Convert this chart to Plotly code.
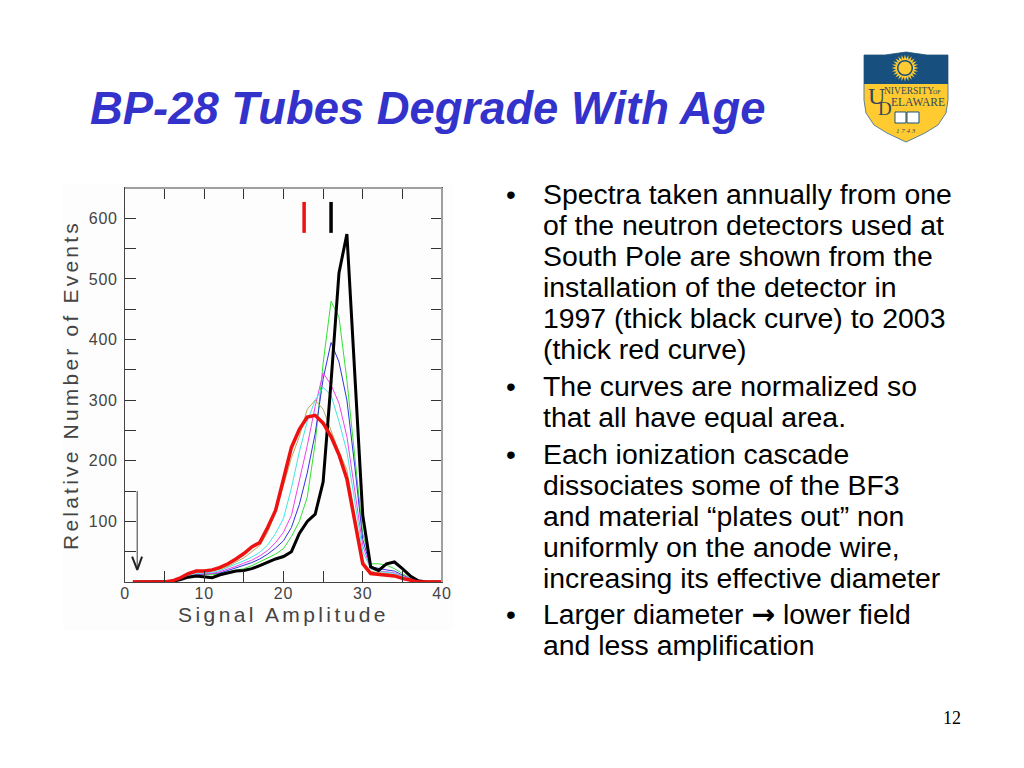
import math
import plotly.graph_objects as go

W, H = 1024, 768
title = "BP-28 Tubes Degrade With Age"
x_title = "Signal Amplitude"
y_title = "Relative Number of Events"
x_ticks = [0, 5, 10, 15, 20, 25, 30, 35, 40]
x_labels = ["0", "", "10", "", "20", "", "30", "", "40"]
y_ticks = [50, 100, 150, 200, 250, 300, 350, 400, 450, 500, 550, 600]
y_labels = ["", "100", "", "200", "", "300", "", "400", "", "500", "", "600"]
ARROW = '<span style="font-family:DejaVu Sans"><b>→</b></span>'
bullet_lines = [
    ("•", "Spectra taken annually from one", 194),
    ("", "of the neutron detectors used at", 225),
    ("", "South Pole are shown from the", 256),
    ("", "installation of the detector in", 287),
    ("", "1997 (thick black curve) to 2003", 318),
    ("", "(thick red curve)", 349),
    ("•", "The curves are normalized so", 386),
    ("", "that all have equal area.", 417),
    ("•", "Each ionization cascade", 454),
    ("", "dissociates some of the BF3", 485),
    ("", "and material “plates out” non", 516),
    ("", "uniformly on the anode wire,", 547),
    ("", "increasing its effective diameter", 578),
    ("•", "Larger diameter " + ARROW + " lower field", 614),
    ("", "and less amplification", 645),
]
x_vals = list(range(1, 41))
# amplitude 1..40
black = [0,0,0,0,0,1,4,8,10,9,7,12,15,18,19,22,27,33,38,42,50,80,100,112,165,330,510,574,340,110,25,19,30,33,22,10,2,0,0,0]
green = [0,0,0,0,0,2,5,9,11,12,12,14,17,20,22,27,33,39,46,55,75,100,140,229,361,463,437,333,205,80,30,30,28,22,14,6,1,0,0,0]
blue = [0,0,0,0,0,2,6,10,12,13,13,15,19,23,27,32,38,46,56,68,90,128,180,245,335,395,363,300,190,70,25,22,20,18,12,5,1,0,0,0]
magenta = [0,0,0,0,0,2,6,11,13,14,14,17,21,26,31,36,43,52,65,82,110,165,225,290,345,325,295,240,150,60,22,18,17,15,10,5,1,0,0,0]
cyan = [0,0,0,0,0,2,6,11,14,15,16,19,24,29,35,41,49,61,80,105,155,215,265,300,321,308,265,215,130,50,22,17,16,14,9,4,1,0,0,0]
tan = [0,0,0,0,0,2,7,13,16,17,18,21,26,33,40,50,60,82,115,160,205,240,285,300,285,250,215,185,110,35,18,15,14,12,8,4,1,0,0,0]
red = [0,0,0,0,0,2,7,14,18,18,20,24,30,38,47,58,65,90,118,170,222,252,272,275,262,240,210,170,100,30,14,13,12,10,6,3,0,0,0,0]
red_mark_x = [22.6, 22.6]
black_mark_x = [26, 26]
mark_y = [576, 627]
arrow_x = [1.55, 1.55]
arrow_y = [150, 22]
head_x = [0.9, 1.55, 2.15]
head_y = [42, 20, 42]

fx = lambda p: p / W
fy = lambda p: 1 - p / H

def path(points, close=True):
    s = "M " + " L ".join(f"{fx(a):.5f},{fy(b):.5f}" for a, b in points)
    return s + (" Z" if close else "")

fig = go.Figure()
thin = [("#33E033", green), ("#3333DD", blue), ("#EE44EE", magenta), ("#44E5E5", cyan), ("#B8A860", tan)]
for c, v in thin:
    fig.add_trace(go.Scatter(x=x_vals, y=v, mode="lines", line=dict(color=c, width=1)))
fig.add_trace(go.Scatter(x=x_vals, y=black, mode="lines", line=dict(color="#000000", width=3)))
fig.add_trace(go.Scatter(x=x_vals, y=red, mode="lines", line=dict(color="#EE1111", width=3.5)))
fig.add_trace(go.Scatter(x=red_mark_x, y=mark_y, mode="lines", line=dict(color="#EE1111", width=3.5)))
fig.add_trace(go.Scatter(x=black_mark_x, y=mark_y, mode="lines", line=dict(color="#000000", width=3.5)))
fig.add_trace(go.Scatter(x=arrow_x, y=arrow_y, mode="lines", line=dict(color="#777777", width=1.5)))
fig.add_trace(go.Scatter(x=head_x, y=head_y, mode="lines", line=dict(color="#222222", width=2)))

shapes = []
shapes.append(dict(type="rect", xref="paper", yref="paper", x0=fx(63), x1=fx(453), y0=fy(630), y1=fy(184),
                   fillcolor="#FDFDFD", line_width=0, layer="below"))
for a, b in [((125, 188), (442, 188)), ((442, 188), (442, 582))]:
    shapes.append(dict(type="line", xref="paper", yref="paper", x0=fx(a[0]), y0=fy(a[1]), x1=fx(b[0]), y1=fy(b[1]),
                       line=dict(color="#A0A0A0", width=2), layer="above"))

def arc(cx, cy, rx, ry, a0, a1, n=12):
    return [(cx + rx * math.cos(math.radians(a0 + (a1 - a0) * i / n)), cy + ry * math.sin(math.radians(a0 + (a1 - a0) * i / n))) for i in range(n + 1)]
shield = [(864, 55), (885, 55), (906, 52), (927, 55), (948, 55), (948, 100), (946, 113), (938, 125), (925, 133), (906, 142),
          (887, 133), (874, 125), (866, 113), (864, 100)]
navy = [(864, 55), (885, 55), (906, 52), (927, 55), (948, 55), (948, 84), (864, 84)]
def sh(pts, fill, lw=0, lc=None):
    d = dict(type="path", xref="paper", yref="paper", path=path(pts), fillcolor=fill, layer="above")
    d["line"] = dict(color=lc, width=lw) if lw else dict(width=0)
    return d
shapes.append(sh(shield, "#FFCB30", 1, "#5E7F96"))
shapes.append(sh(navy, "#17507F"))
star = []
for i in range(48):
    r = 13.5 if i % 2 == 0 else 9
    a = math.radians(i * 7.5)
    star.append((905 + r * math.cos(a), 68 + r * math.sin(a)))
shapes.append(sh(star, "#FFCB30"))
shapes.append(sh(arc(905, 68, 8, 8, 0, 360, 24), "#17507F"))
shapes.append(sh(arc(905, 68, 6.5, 6.5, 0, 360, 24), "#FFCB30"))
shapes.append(sh([(895, 112), (906, 112), (906, 123), (895, 123)], "#FFFFFF", 1, "#17507F"))
shapes.append(sh([(907, 112), (919, 112), (919, 123), (907, 123)], "#FFFFFF", 1, "#17507F"))

ann = []
def text(x, y, s, size, color="#000000", family="Liberation Sans", anchor="left", yanchor="middle", angle=0):
    ann.append(dict(x=fx(x), y=fy(y), xref="paper", yref="paper", text=s, showarrow=False, xanchor=anchor, yanchor=yanchor,
                    textangle=angle, font=dict(size=size, color=color, family=family)))

text(88, 108, "<b><i>" + title + "</i></b>", 45.4, "#3333CC")
for b, s, y in bullet_lines:
    if b:
        text(504, y, b, 28)
    text(541, y, s, 28.4)
text(952, 718, "12", 18, family="Liberation Serif", anchor="center")
navy_c = "#33495A"
text(866, 96, "U", 24, navy_c, "Liberation Serif")
text(876, 108, "D", 19, navy_c, "Liberation Serif")
text(882, 91, "NIVERSITY", 9.5, navy_c, "Liberation Serif")
text(931, 92, "OF", 6, navy_c, "Liberation Serif")
text(889, 102, "ELAWARE", 11.5, navy_c, "Liberation Serif")
text(906, 131, "<i>1 7 4 3</i>", 7, navy_c, "Liberation Serif", anchor="center")

fig.update_layout(
    width=W, height=H, margin=dict(l=0, r=0, t=0, b=0, autoexpand=False), showlegend=False,
    paper_bgcolor="#FFFFFF", plot_bgcolor="rgba(0,0,0,0)",
    shapes=shapes, annotations=ann,
    font=dict(family="Liberation Sans"),
    xaxis=dict(domain=[fx(125), fx(442)], range=[0, 40], tickmode="array", tickvals=x_ticks, ticktext=x_labels,
               ticks="inside", ticklen=11, tickwidth=1, tickcolor="#333333", showline=True, linecolor="#444444", linewidth=1,
               mirror="ticks", showgrid=False, zeroline=False, ticklabelstandoff=-3,
               tickfont=dict(size=16, color="#444444", family="Liberation Sans"),
               title=dict(text=x_title, standoff=6, font=dict(size=21, color="#444444", family="Liberation Sans"))),
    yaxis=dict(domain=[fy(582), fy(188)], range=[0, 650], tickmode="array", tickvals=y_ticks, ticktext=y_labels,
               ticks="inside", ticklen=11, tickwidth=1, tickcolor="#333333", showline=True, linecolor="#444444", linewidth=1,
               mirror="ticks", showgrid=False, zeroline=False, ticklabelstandoff=3,
               tickfont=dict(size=16, color="#444444", family="Liberation Sans"),
               title=dict(text=y_title, standoff=6, font=dict(size=21, color="#444444", family="Liberation Sans"))),
)
post = """
document.body.style.margin='0';
document.querySelectorAll('.xtitle').forEach(e=>e.style.letterSpacing='3.4px');
document.querySelectorAll('.ytitle').forEach(e=>e.style.letterSpacing='3.2px');
document.querySelectorAll('.xtick text,.ytick text').forEach(e=>e.style.letterSpacing='0.8px');
"""
fig.write_html("out.html", post_script=post, config={"displayModeBar": False})
